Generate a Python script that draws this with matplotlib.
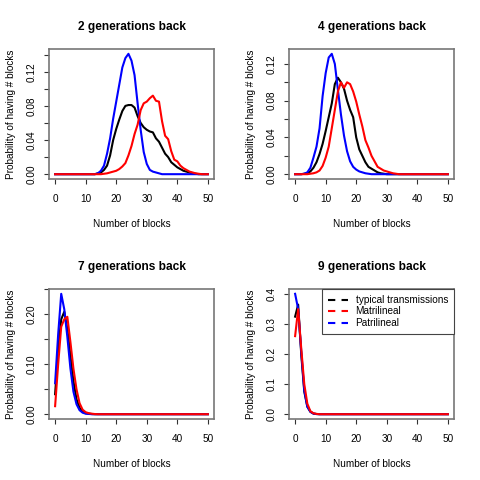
import matplotlib
matplotlib.use("Agg")
import matplotlib.pyplot as plt
from matplotlib.lines import Line2D

plt.rcParams['font.family'] = ['Liberation Sans', 'DejaVu Sans']

N_MAX = 50

# probabilities, listed from the first non-zero block count
gen2_typical = [0.001, 0.002, 0.005, 0.010, 0.022, 0.040, 0.053, 0.064, 0.074, 0.080,
                0.081, 0.081, 0.078, 0.068, 0.060, 0.055, 0.052, 0.050, 0.049, 0.042,
                0.038, 0.031, 0.024, 0.020, 0.014, 0.011, 0.008, 0.006, 0.004, 0.003,
                0.002, 0.001, 0.0005]
gen2_typical_start = 14
gen2_matri = [0.0005, 0.001, 0.002, 0.003, 0.004, 0.006, 0.009, 0.013, 0.022, 0.033,
              0.047, 0.058, 0.075, 0.083, 0.085, 0.089, 0.092, 0.086, 0.085, 0.062,
              0.045, 0.041, 0.027, 0.017, 0.015, 0.010, 0.007, 0.005, 0.003, 0.002,
              0.001, 0.0005]
gen2_matri_start = 16
gen2_patri = [0.001, 0.004, 0.010, 0.024, 0.042, 0.065, 0.085, 0.105, 0.125, 0.136,
              0.141, 0.133, 0.116, 0.083, 0.052, 0.026, 0.012, 0.005, 0.003, 0.002,
              0.001]
gen2_patri_start = 14

gen4_typical = [0.0005, 0.001, 0.003, 0.007, 0.013, 0.022, 0.033, 0.047, 0.062, 0.077,
                0.098, 0.105, 0.100, 0.093, 0.080, 0.070, 0.062, 0.040, 0.027, 0.020,
                0.013, 0.008, 0.006, 0.004, 0.002, 0.001, 0.0005]
gen4_typical_start = 3
gen4_matri = [0.0005, 0.001, 0.002, 0.004, 0.009, 0.018, 0.030, 0.050, 0.070, 0.090,
              0.100, 0.094, 0.100, 0.098, 0.090, 0.079, 0.065, 0.052, 0.037, 0.029,
              0.020, 0.014, 0.008, 0.006, 0.004, 0.003, 0.002, 0.001, 0.0005]
gen4_matri_start = 5
gen4_patri = [0.0005, 0.002, 0.007, 0.018, 0.030, 0.050, 0.085, 0.110, 0.127, 0.131,
              0.120, 0.092, 0.065, 0.042, 0.025, 0.014, 0.008, 0.005, 0.003, 0.002,
              0.001, 0.0005]
gen4_patri_start = 3

gen7_typical = [0.040, 0.130, 0.190, 0.205, 0.170, 0.118, 0.066, 0.030, 0.013, 0.005,
                0.002, 0.001, 0.0003]
gen7_matri = [0.016, 0.100, 0.175, 0.190, 0.195, 0.145, 0.091, 0.050, 0.022, 0.009,
              0.004, 0.002, 0.001, 0.0003]
gen7_patri = [0.062, 0.160, 0.241, 0.210, 0.155, 0.092, 0.045, 0.020, 0.008, 0.003,
              0.001, 0.0005]

gen9_typical = [0.325, 0.365, 0.200, 0.075, 0.025, 0.008, 0.002, 0.0005]
gen9_matri = [0.260, 0.350, 0.220, 0.100, 0.035, 0.010, 0.003, 0.001]
gen9_patri = [0.401, 0.350, 0.210, 0.080, 0.025, 0.008, 0.002, 0.0005]

titles = ['2 generations back', '4 generations back',
          '7 generations back', '9 generations back']
y_ticks = [[0.00, 0.02, 0.04, 0.06, 0.08, 0.10, 0.12, 0.14],
           [0.00, 0.02, 0.04, 0.06, 0.08, 0.10, 0.12],
           [0.00, 0.05, 0.10, 0.15, 0.20, 0.25],
           [0.0, 0.1, 0.2, 0.3, 0.4]]
y_labels = [['0.00', '', '0.04', '', '0.08', '', '0.12', ''],
            ['0.00', '', '0.04', '', '0.08', '', '0.12'],
            ['0.00', '', '0.10', '', '0.20', ''],
            ['0.0', '0.1', '0.2', '0.3', '0.4']]
x_ticks = [0, 10, 20, 30, 40, 50]
legend_labels = ['typical transmissions', 'Matrilineal', 'Patrilineal']


def pad(vals, start=0):
	# curves are flat at zero outside the listed part
	full = [0.0] * start + list(vals)
	return full + [0.0] * (N_MAX + 1 - len(full))


panels = [
	(pad(gen2_typical, gen2_typical_start), pad(gen2_matri, gen2_matri_start), pad(gen2_patri, gen2_patri_start)),
	(pad(gen4_typical, gen4_typical_start), pad(gen4_matri, gen4_matri_start), pad(gen4_patri, gen4_patri_start)),
	(pad(gen7_typical), pad(gen7_matri), pad(gen7_patri)),
	(pad(gen9_typical), pad(gen9_matri), pad(gen9_patri)),
]

colors = ['black', 'red', 'blue']
z_order = [2, 4, 3]  # red drawn over blue, both over black
blocks = list(range(N_MAX + 1))

fig = plt.figure(figsize=(4.8, 4.8), dpi=100)
W = 480.0
boxes = [(49, 49), (289, 49), (49, 289), (289, 289)]  # left, top in px
bw, bh = 165, 130

for i, (typ, mat, pat) in enumerate(panels):
	left, top = boxes[i]
	ax = fig.add_axes([left / W, 1 - (top + bh) / W, bw / W, bh / W])
	for series, c, z in zip((typ, mat, pat), colors, z_order):
		ax.plot(blocks, series, color=c, lw=1.5, zorder=z)

	# R style 4% padding on both axes
	ymax = max(max(typ), max(mat), max(pat))
	ax.set_xlim(-2, 52)
	ax.set_ylim(-0.04 * ymax, 1.04 * ymax)

	ax.set_xticks(x_ticks)
	ax.set_yticks(y_ticks[i])
	ax.set_yticklabels(y_labels[i], rotation=90, va='center')
	ax.tick_params(length=3.6, width=0.8, color='#333333', labelsize=7.2)
	ax.tick_params(axis='x', pad=7)
	ax.tick_params(axis='y', pad=5)
	for s in ax.spines.values():
		s.set_color('#777777')
		s.set_linewidth(1.2)

	ax.set_title(titles[i], fontsize=8.6, fontweight='bold', pad=14)
	ax.set_xlabel('Number of blocks', fontsize=7.2, labelpad=11)
	ax.set_ylabel('Probability of having # blocks', fontsize=7.2, labelpad=8)

	if i == 3:
		handles = [Line2D([], [], color=c, lw=1.5, linestyle=(0, (3.5, 3))) for c in colors]
		leg = ax.legend(handles, legend_labels, loc='upper right', bbox_to_anchor=(1, 1),
						borderaxespad=0, fontsize=7.2, fancybox=False, framealpha=1,
						edgecolor='#444444', handlelength=2.0, handletextpad=0.8,
						labelspacing=0.15, borderpad=0.6)
		leg.get_frame().set_linewidth(0.8)
		leg.set_zorder(5)

fig.savefig('out.png', dpi=100)
